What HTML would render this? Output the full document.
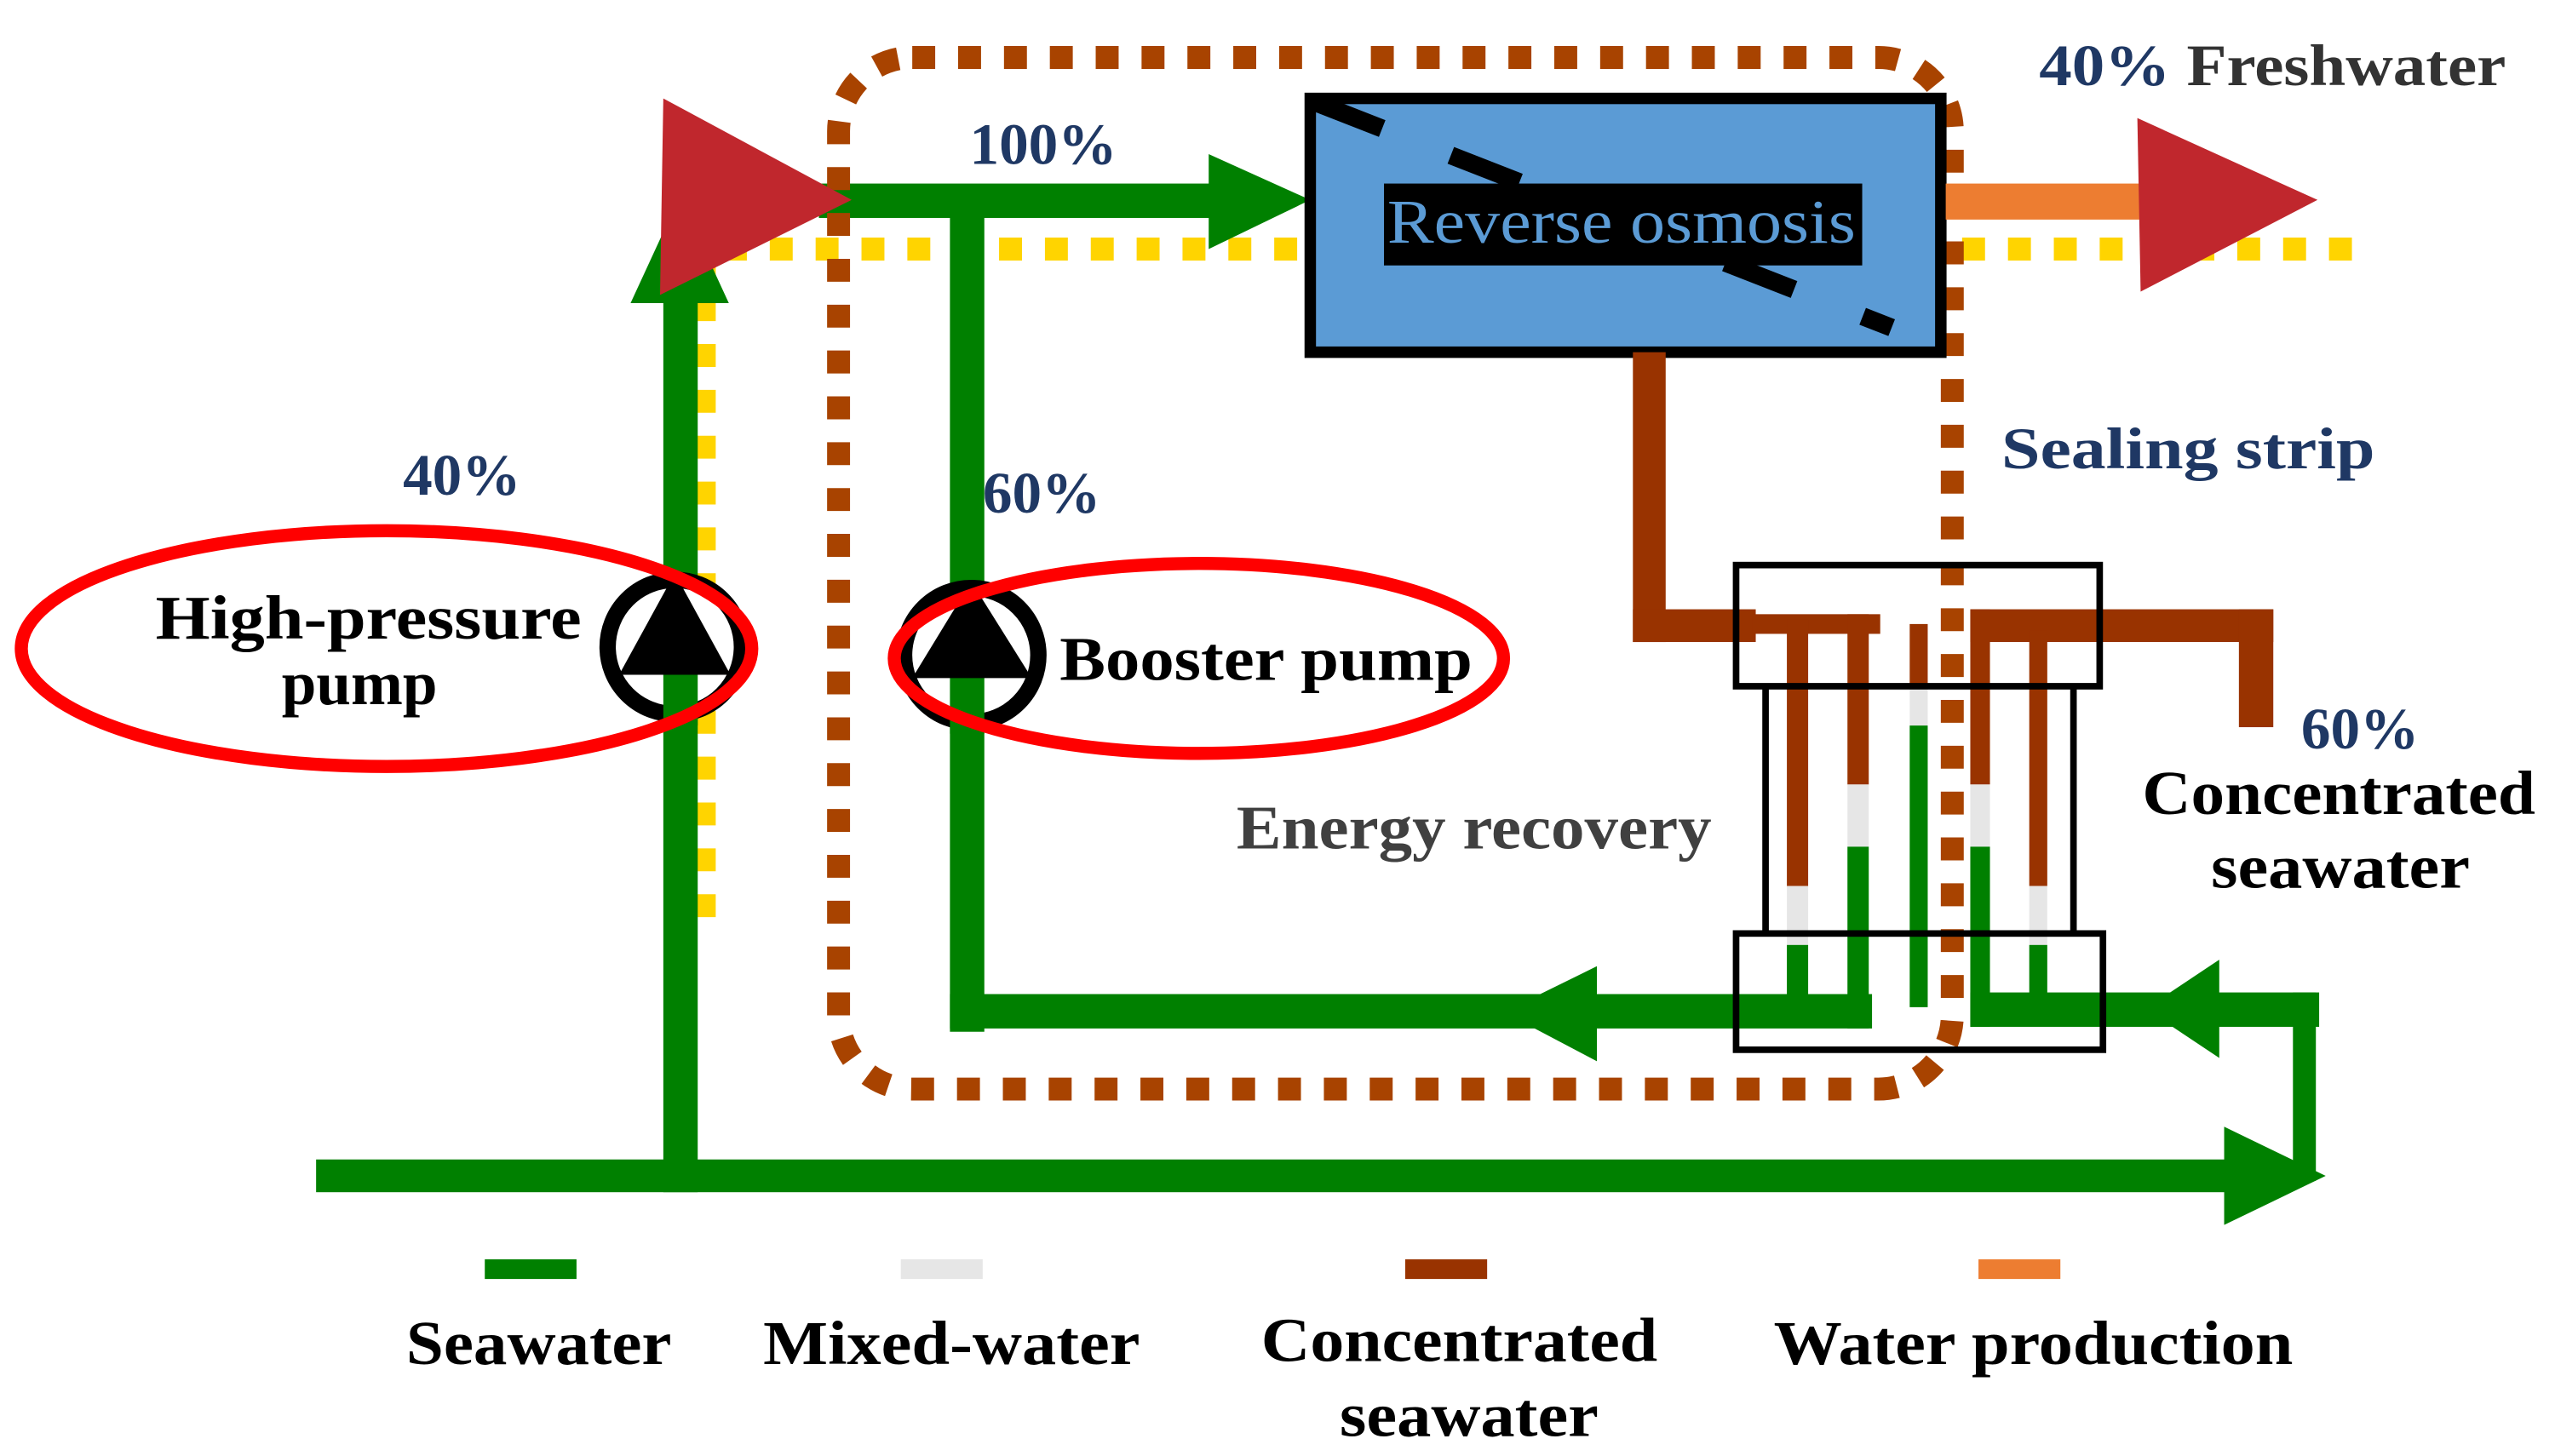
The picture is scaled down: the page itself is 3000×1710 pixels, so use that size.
<!DOCTYPE html>
<html><head><meta charset="utf-8"><style>html,body{margin:0;padding:0;background:#fff}svg{display:block}</style></head>
<body>
<svg width="3000" height="1710" viewBox="0 0 1560 889" xmlns="http://www.w3.org/2000/svg" font-family="Liberation Serif, serif" font-weight="bold">
<rect width="1560" height="889" fill="#fff"/>
<path d="M430 560 V152 H1440" fill="none" stroke="#ffd400" stroke-width="14" stroke-dasharray="14 14"/>
<g fill="#008000" stroke="none">
<rect x="193" y="708" width="1170" height="20"/>
<polygon points="1358,688 1420,718 1358,748"/>
<rect x="405" y="180" width="21" height="548"/>
<polygon points="385,185 415,120 445,185"/>
<rect x="500" y="112" width="245" height="21"/>
<polygon points="738,94 800,122 738,152"/>
<rect x="580" y="122" width="21" height="508"/>
<rect x="580" y="607" width="563" height="21"/>
<polygon points="975,590 918,618 975,648"/>
<rect x="1203" y="606" width="213" height="21"/>
<polygon points="1355,586 1310,616 1355,646"/>
<rect x="1400" y="606" width="14" height="115"/>
</g>
<rect x="512" y="35" width="680" height="630" rx="45" fill="none" stroke="#a84300" stroke-width="14" stroke-dasharray="14 14"/>
<polygon points="405,60 520,122 403,180" fill="#c0272d"/>
<rect x="800" y="60" width="385" height="155" fill="#5b9bd5" stroke="#000" stroke-width="7"/>
<line x1="802" y1="62" x2="1155" y2="200" stroke="#000" stroke-width="11" stroke-dasharray="45 45"/>
<rect x="845" y="112" width="292" height="50" fill="#000"/>
<text x="847" y="148" font-size="38" font-weight="normal" fill="#5b9bd5" textLength="286" lengthAdjust="spacingAndGlyphs">Reverse osmosis</text>
<rect x="1188" y="112" width="122" height="22" fill="#ed7d31"/>
<polygon points="1305,72 1415,122 1307,178" fill="#c0272d"/>
<g fill="#993300">
<rect x="997" y="215" width="20" height="177"/>
<rect x="997" y="372" width="75" height="20"/>
<rect x="1070" y="375" width="78" height="12"/>
<rect x="1203" y="372" width="185" height="20"/>
<rect x="1367" y="372" width="21" height="72"/>
</g>
<g>
<rect x="1091" y="378" width="13" height="163" fill="#993300"/>
<rect x="1091" y="541" width="13" height="36" fill="#e6e6e6"/>
<rect x="1091" y="577" width="13" height="40" fill="#008000"/>
<rect x="1128" y="375" width="13" height="104" fill="#993300"/>
<rect x="1128" y="479" width="13" height="38" fill="#e6e6e6"/>
<rect x="1128" y="517" width="13" height="111" fill="#008000"/>
<rect x="1166" y="381" width="11" height="37" fill="#993300"/>
<rect x="1166" y="418" width="11" height="25" fill="#e6e6e6"/>
<rect x="1166" y="443" width="11" height="172" fill="#008000"/>
<rect x="1203" y="372" width="12" height="107" fill="#993300"/>
<rect x="1203" y="479" width="12" height="38" fill="#e6e6e6"/>
<rect x="1203" y="517" width="12" height="110" fill="#008000"/>
<rect x="1239" y="385" width="11" height="156" fill="#993300"/>
<rect x="1239" y="541" width="11" height="36" fill="#e6e6e6"/>
<rect x="1239" y="577" width="11" height="40" fill="#008000"/>
</g>
<g fill="none" stroke="#000" stroke-width="4">
<rect x="1060" y="345" width="222" height="74"/>
<line x1="1078" y1="420" x2="1078" y2="568"/>
<line x1="1266" y1="420" x2="1266" y2="568"/>
<rect x="1060" y="570" width="224" height="71"/>
</g>
<g>
<circle cx="412" cy="395" r="41" fill="#fff" stroke="#000" stroke-width="10"/>
<rect x="405" y="395" width="21" height="48" fill="#008000"/>
<polygon points="412,350 378,412 446,412" fill="#000"/>
<circle cx="593" cy="400" r="41" fill="#fff" stroke="#000" stroke-width="10"/>
<rect x="580" y="400" width="21" height="48" fill="#008000"/>
<polygon points="593,355 557,414 630,414" fill="#000"/>
</g>
<ellipse cx="236" cy="396" rx="223" ry="72" fill="none" stroke="#ff0000" stroke-width="8"/>
<ellipse cx="732" cy="402" rx="186" ry="58" fill="none" stroke="#ff0000" stroke-width="8"/>
<g font-size="38">
<text x="592" y="100" fill="#1f3864" font-size="36">100%</text>
<text x="1245" y="52" fill="#1f3864" font-size="36" textLength="285" lengthAdjust="spacingAndGlyphs">40% <tspan fill="#333">Freshwater</tspan></text>
<text x="1222" y="286" fill="#1f3864" font-size="36" textLength="228" lengthAdjust="spacingAndGlyphs">Sealing strip</text>
<text x="246" y="302" fill="#1f3864" font-size="36">40%</text>
<text x="600" y="313" fill="#1f3864" font-size="36">60%</text>
<text x="95" y="390" fill="#000" textLength="260" lengthAdjust="spacingAndGlyphs">High-pressure</text>
<text x="172" y="430" fill="#000">pump</text>
<text x="647" y="415" fill="#000" textLength="252" lengthAdjust="spacingAndGlyphs">Booster pump</text>
<text x="755" y="518" fill="#404040" textLength="290" lengthAdjust="spacingAndGlyphs">Energy recovery</text>
<text x="1405" y="457" fill="#1f3864" font-size="36">60%</text>
<text x="1308" y="497" fill="#000" textLength="240" lengthAdjust="spacingAndGlyphs">Concentrated</text>
<text x="1350" y="542" fill="#000" textLength="158" lengthAdjust="spacingAndGlyphs">seawater</text>
<text x="248" y="833" fill="#000" textLength="162" lengthAdjust="spacingAndGlyphs">Seawater</text>
<text x="466" y="833" fill="#000" textLength="230" lengthAdjust="spacingAndGlyphs">Mixed-water</text>
<text x="770" y="831" fill="#000" textLength="242" lengthAdjust="spacingAndGlyphs">Concentrated</text>
<text x="818" y="877" fill="#000" textLength="158" lengthAdjust="spacingAndGlyphs">seawater</text>
<text x="1083" y="833" fill="#000" textLength="317" lengthAdjust="spacingAndGlyphs">Water production</text>
</g>
<rect x="296" y="769" width="56" height="12" fill="#008000"/>
<rect x="550" y="769" width="50" height="12" fill="#e6e6e6"/>
<rect x="858" y="769" width="50" height="12" fill="#993300"/>
<rect x="1208" y="769" width="50" height="12" fill="#ed7d31"/>
</svg>
</body></html>
